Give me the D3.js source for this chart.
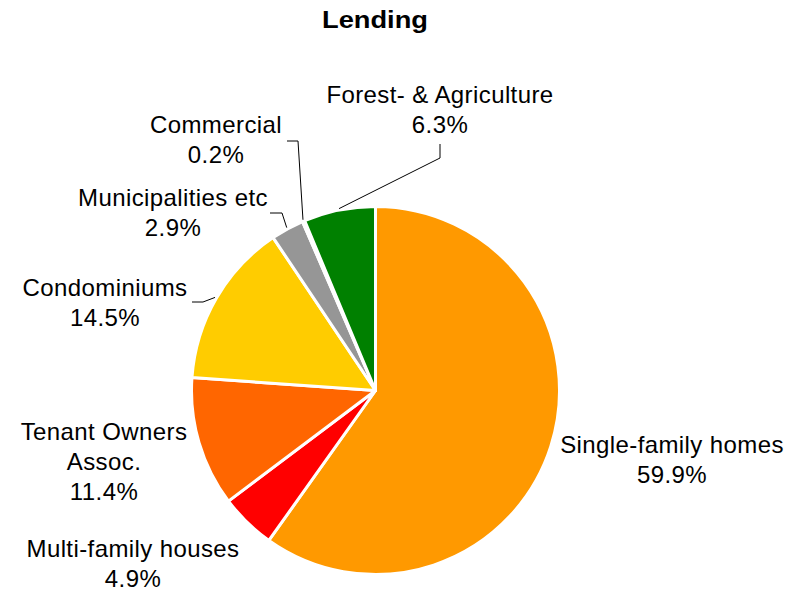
<!DOCTYPE html>
<html>
<head>
<meta charset="utf-8">
<script src="https://cdn.jsdelivr.net/npm/d3@7"></script>
<style>
  html, body { margin: 0; padding: 0; background: #fff; }
  svg { display: block; }
  text { font-family: "Liberation Sans", Arial, sans-serif; fill: #000; }
</style>
</head>
<body>
<svg id="chart" width="802" height="590"></svg>
<script>
// Lending portfolio by segment, share in percent
const categories = [
  "Single-family homes",
  "Multi-family houses",
  "Tenant Owners Assoc.",
  "Condominiums",
  "Municipalities etc",
  "Commercial",
  "Forest- & Agriculture"
];
const shares = [59.9, 4.9, 11.4, 14.5, 2.9, 0.2, 6.3];
const colors = ["#FF9900", "#FF0000", "#FF6600", "#FFCC00", "#969696", "#999999", "#008000"];
// label lines as they are drawn (a category name may wrap)
const labelLines = [
  ["Single-family homes"],
  ["Multi-family houses"],
  ["Tenant Owners", "Assoc."],
  ["Condominiums"],
  ["Municipalities etc"],
  ["Commercial"],
  ["Forest- & Agriculture"]
];

// layout: label anchor (centre x, first baseline y) and optional leader elbow/end
const layout = [
  { x: 672, y: 453 },
  { x: 133, y: 557 },
  { x: 104, y: 440 },
  { x: 105, y: 296, elbow: [203, 302], end: [192, 302] },
  { x: 173, y: 206, elbow: [282, 213], end: [270, 213] },
  { x: 216, y: 133, elbow: [298, 141], end: [287, 141] },
  { x: 440, y: 103, elbow: [440, 158], end: [440, 144] }
];

const svg = d3.select("#chart");
const cx = 375.5, cy = 390.5, r = 184;
const lineH = 30;

svg.append("text")
  .attr("x", 375)
  .attr("y", 28)
  .attr("text-anchor", "middle")
  .attr("font-size", 24)
  .attr("font-weight", "bold")
  .attr("textLength", 106)
  .attr("lengthAdjust", "spacingAndGlyphs")
  .text("Lending");

const data = categories.map((c, i) => ({ name: c, value: shares[i], i }));

const pie = d3.pie().sort(null).value(d => d.value).startAngle(0).endAngle(2 * Math.PI);
const arcs = pie(data);
const arc = d3.arc().innerRadius(0).outerRadius(r);

const g = svg.append("g").attr("transform", `translate(${cx},${cy})`);
g.selectAll("path.slice")
  .data(arcs)
  .join("path")
  .attr("class", "slice")
  .attr("d", arc)
  .attr("fill", d => colors[d.data.i])
  .attr("stroke", "#fff")
  .attr("stroke-width", 3)
  .attr("stroke-linejoin", "round");

// leader lines from the slice rim to the label
arcs.forEach(a => {
  const L = layout[a.data.i];
  if (!L.elbow) return;
  const mid = (a.startAngle + a.endAngle) / 2;
  const sx = cx + (r + 1.5) * Math.sin(mid);
  const sy = cy - (r + 1.5) * Math.cos(mid);
  svg.append("polyline")
    .attr("points", [[sx, sy], L.elbow, L.end].map(p => p.join(",")).join(" "))
    .attr("fill", "none")
    .attr("stroke", "#000")
    .attr("stroke-width", 1);
});

// labels: category name lines followed by the percentage
const fmt = d3.format(".1f");
arcs.forEach(a => {
  const i = a.data.i;
  const L = layout[i];
  const lines = labelLines[i].concat([fmt(a.data.value) + "%"]);
  const t = svg.append("text")
    .attr("text-anchor", "middle")
    .attr("font-size", 24)
    .attr("letter-spacing", "0.4px");
  lines.forEach((s, k) => {
    t.append("tspan").attr("x", L.x).attr("y", L.y + k * lineH).text(s);
  });
});
</script>
</body>
</html>
